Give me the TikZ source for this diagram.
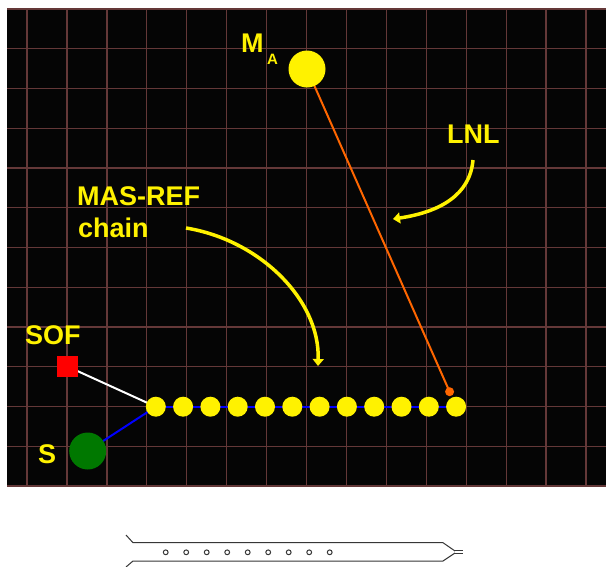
\documentclass[tikz,border=0pt]{standalone}
\usepackage{fontspec}
\setmainfont{Liberation Sans}
\usetikzlibrary{arrows.meta}
\definecolor{gridc}{RGB}{100,56,56}
\definecolor{bgc}{RGB}{5,5,5}
\definecolor{orng}{RGB}{255,102,0}
\definecolor{grn}{RGB}{0,120,0}
\definecolor{needle}{RGB}{55,55,55}
\pgfdeclarelayer{bg}
\pgfdeclarelayer{lines}
\pgfsetlayers{bg,lines,main}
\tikzset{
  bead/.style={circle, fill=yellow, draw=none, inner sep=0pt, minimum size=20pt},
  big/.style={circle, draw=none, inner sep=0pt, minimum size=37pt},
  lbl/.style={text=yellow, font=\fontsize{27}{29}\selectfont\bfseries, inner sep=0pt, anchor=base west},
  sublbl/.style={text=yellow, font=\fontsize{15}{16}\selectfont\bfseries, inner sep=0pt, anchor=base west},
  link/.style={line width=2pt},
  callout/.style={yellow, line width=3.5pt, -{Triangle[width=11pt,length=7pt]}},
  gridline/.style={gridc, line width=1.3pt},
  needleline/.style={needle, line width=1pt}
}
\begin{document}
\begin{tikzpicture}[x=1pt,y=-1pt]
\useasboundingbox (0,0) rectangle (606,566);
\begin{pgfonlayer}{bg}
  \fill[white] (0,0) rectangle (606,566);
  \fill[bgc] (7,9) rectangle (606,487);
  \foreach \k in {0,...,14} \draw[gridline] ({27+39.93*\k},9) -- ({27+39.93*\k},487);
  \foreach \k in {0,...,12} \draw[gridline] (7,{9+39.75*\k}) -- (606,{9+39.75*\k});
\end{pgfonlayer}

% chain beads
\foreach \i in {1,...,12} \node[bead] (c\i) at ({155.8+27.3*(\i-1)},406.7) {};

% other bodies
\node[big, fill=yellow] (ma) at (307,69) {};
\node[big, fill=grn] (s) at (87.7,451) {};
\node[rectangle, fill=red, draw=none, inner sep=0pt, minimum size=21pt] (sof) at (67.5,366.5) {};
\node[circle, fill=orng, draw=none, inner sep=0pt, minimum size=9pt] (od) at (449.6,391.7) {};

% labels
\node[lbl] (lm) at (241,52) {M};
\node[sublbl] (la) at (267,64) {A};
\node[lbl] (llnl) at (447,143) {LNL};
\node[lbl] (lmas) at (77,205) {MAS-REF};
\node[lbl] (lchain) at (78,237) {chain};
\node[lbl] (lsof) at (25,344) {SOF};
\node[lbl] (ls) at (38,463) {S};

% connectors
\begin{pgfonlayer}{lines}
  \draw[link, blue] (c1.center) -- (c12.center);
  \draw[link, blue] (s.center) -- (c1.center);
  \draw[link, white] (sof.center) -- (c1.center);
  \draw[link, orng] (ma.center) -- (od.center);
\end{pgfonlayer}

% callout arrows
\coordinate (masstart) at (186,228);
\coordinate (masend) at (318,366);
\coordinate (lnlstart) at (473,160);
\coordinate (lnlend) at (393,219);
\draw[callout] (masstart) .. controls (260,240) and (320,300) .. (masend);
\draw[callout] (lnlstart) .. controls (470,195) and (440,212) .. (lnlend);

% needle sketch
\draw[needleline] (126,535) -- (133,542.7) -- (443,542.7) -- (455,551);
\draw[needleline] (126,567) -- (133,561) -- (443,561) -- (455,553);
\draw[needleline] (455,550.5) -- (463,550.5);
\draw[needleline] (455,553.5) -- (463,553.5);
\foreach \k in {0,...,8} \draw[needleline] ({165.7+20.5*\k},552.3) circle (2.4pt);
\end{tikzpicture}
\end{document}
